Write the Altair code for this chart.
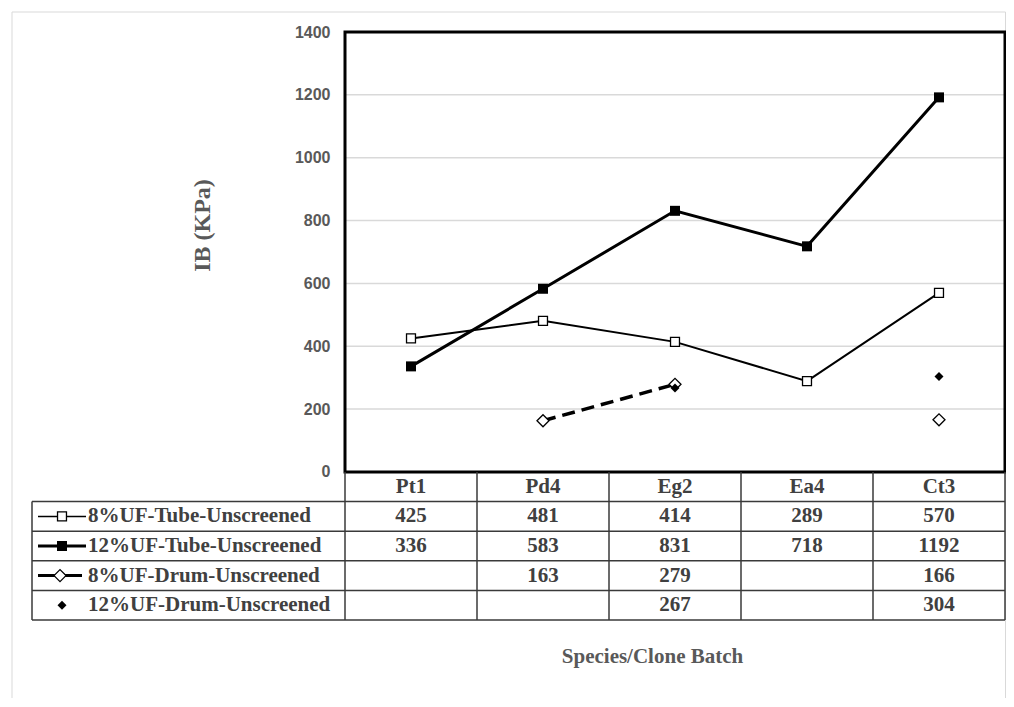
import altair as alt
import pandas as pd

# ---------------- data ----------------
categories = ["Pt1", "Pd4", "Eg2", "Ea4", "Ct3"]
series = ["8%UF-Tube-Unscreened", "12%UF-Tube-Unscreened",
          "8%UF-Drum-Unscreened", "12%UF-Drum-Unscreened"]
tube8 = [425, 481, 414, 289, 570]
tube12 = [336, 583, 831, 718, 1192]
drum8 = [None, 163, 279, None, 166]
drum12 = [None, None, 267, None, 304]
y_ticks = [0, 200, 400, 600, 800, 1000, 1200, 1400]
y_title = "IB (KPa)"
x_title = "Species/Clone Batch"

values = [tube8, tube12, drum8, drum12]

# ---------------- layout constants ----------------
N = len(categories)
W, H = 973, 588
LABEL_PX = 313                      # width of the table's label column in px
COLPX = (W - LABEL_PX) / N          # width of one category column in px
LABEL_W = LABEL_PX / COLPX          # label column width in category units
ROW = 94.2                          # table row height, in y units
YMAX = 1400
PAD = {"left": 24, "top": 24, "right": 1, "bottom": 78}

SERIF = "Liberation Serif"
SANS = "Liberation Sans"
TXT = "#404040"
GRAY = "#595959"
LINE = "#3a3a3a"

xs = alt.Scale(domain=[-LABEL_W, N], nice=False, zero=False)
ys = alt.Scale(domain=[-5 * ROW, YMAX], nice=False, zero=False)

xaxis = alt.Axis(labels=False, ticks=False, domain=False, grid=False,
                 title=x_title, titleFont=SERIF, titleFontSize=21,
                 titleFontWeight="bold", titleColor=GRAY,
                 titleX=620, titleY=36, titleAlign="center",
                 titleBaseline="middle")
yaxis = alt.Axis(values=y_ticks, format="d", grid=False, domain=False, ticks=False,
                 offset=-LABEL_PX, labelPadding=15,
                 labelFont=SANS, labelFontSize=16, labelFontWeight="bold",
                 labelColor=GRAY,
                 title=y_title, titleFont=SERIF, titleFontSize=24,
                 titleFontWeight="bold", titleColor=GRAY,
                 titleAngle=270, titleX=-143, titleY=193,
                 titleAlign="center", titleBaseline="middle")


def X(f="x"):
    return alt.X(f, type="quantitative", scale=xs, axis=xaxis)


def Y(f="y"):
    return alt.Y(f, type="quantitative", scale=ys, axis=yaxis)


# long data for the plot
rows = []
for s, (name, vals) in enumerate(zip(series, values)):
    seg = 0
    for i, v in enumerate(vals):
        if v is None:
            seg += 1
            continue
        rows.append({"series": name, "s": s, "cat": categories[i],
                     "x": i + 0.5, "y": v, "seg": seg})
df = pd.DataFrame(rows)


def sdf(s):
    return df[df["s"] == s]


layers = []

# outer (chart area) frame
frame_color = "#d9d9d9"
one = pd.DataFrame({"a": [0]})
layers.append(alt.Chart(one).mark_rule(color=frame_color, strokeWidth=1).encode(
    x=alt.value(-20), y=alt.value(-20), y2=alt.value(H + PAD["bottom"])))
layers.append(alt.Chart(one).mark_rule(color=frame_color, strokeWidth=1).encode(
    x=alt.value(-20), x2=alt.value(W + 0.5), y=alt.value(-20)))
layers.append(alt.Chart(one).mark_rule(color=frame_color, strokeWidth=1).encode(
    x=alt.value(W + 0.5), y=alt.value(-20), y2=alt.value(H + PAD["bottom"])))

# gridlines
grid_df = pd.DataFrame({"y": y_ticks[1:-1], "x": 0, "x2": N})
layers.append(alt.Chart(grid_df).mark_rule(color="#d9d9d9", strokeWidth=1.5).encode(
    x=X("x"), x2="x2", y=Y("y")))

# plot border
border_df = pd.DataFrame([{"x": 0, "x2": N, "y": 0, "y2": YMAX}])
layers.append(alt.Chart(border_df).mark_rect(fillOpacity=0, stroke="black", strokeWidth=3).encode(
    x=X("x"), x2="x2", y=Y("y"), y2="y2"))

# lines
layers.append(alt.Chart(sdf(0)).mark_line(color="black", strokeWidth=2).encode(
    x=X(), y=Y(), detail="seg:N"))
layers.append(alt.Chart(sdf(1)).mark_line(color="black", strokeWidth=3).encode(
    x=X(), y=Y(), detail="seg:N"))
layers.append(alt.Chart(sdf(2)).mark_line(color="black", strokeWidth=3.5, strokeDash=[13, 7]).encode(
    x=X(), y=Y(), detail="seg:N"))

# markers
marker_styles = [
    dict(shape="square", filled=True, color="white", stroke="black", strokeWidth=1.3, size=80, opacity=1),
    dict(shape="square", filled=True, color="black", size=100, opacity=1),
    dict(shape="diamond", filled=True, color="white", stroke="black", strokeWidth=1.3, size=144, opacity=1),
    dict(shape="diamond", filled=True, color="black", size=80, opacity=1),
]
for s in range(4):
    layers.append(alt.Chart(sdf(s)).mark_point(**marker_styles[s]).encode(x=X(), y=Y()))

# ---------------- data table ----------------
hl = pd.DataFrame({"y": [-ROW * k for k in range(1, 6)], "x": -LABEL_W, "x2": N})
layers.append(alt.Chart(hl).mark_rule(color=LINE, strokeWidth=1.5).encode(
    x=X("x"), x2="x2", y=Y("y")))
vl = pd.DataFrame({"x": [-LABEL_W] + list(range(0, N + 1)),
                   "y": [-ROW] + [0] * (N + 1),
                   "y2": [-5 * ROW] * (N + 2)})
layers.append(alt.Chart(vl).mark_rule(color=LINE, strokeWidth=1.5).encode(
    x=X("x"), y=Y("y"), y2="y2"))

head_df = pd.DataFrame({"x": [i + 0.5 for i in range(N)], "y": -0.5 * ROW, "t": categories})
val_df = df.assign(y=-(df["s"] + 1.5) * ROW, t=df["y"].astype(int).astype(str))
lab_df = pd.DataFrame({"x": -LABEL_W, "y": [-(s + 1.5) * ROW for s in range(4)], "t": series})

txt = dict(font=SERIF, fontSize=21, fontWeight="bold", color=TXT, baseline="middle")
layers.append(alt.Chart(head_df).mark_text(align="center", **txt).encode(x=X(), y=Y(), text="t:N"))
layers.append(alt.Chart(val_df).mark_text(align="center", **txt).encode(x=X(), y=Y(), text="t:N"))
layers.append(alt.Chart(lab_df).mark_text(align="left", dx=56, **txt).encode(x=X(), y=Y(), text="t:N"))

# legend keys inside the table
g0, g1, gc = -LABEL_W + 6 / COLPX, -LABEL_W + 54 / COLPX, -LABEL_W + 30 / COLPX
key_lines = [(0, 1.5, g1), (1, 3, g1), (2, 3, -LABEL_W + 50 / COLPX)]
for s, w, end in key_lines:
    kdf = pd.DataFrame([{"x": g0, "x2": end, "y": -(s + 1.5) * ROW}])
    layers.append(alt.Chart(kdf).mark_rule(color="black", strokeWidth=w).encode(
        x=X("x"), x2="x2", y=Y("y")))
key_centres = [gc, gc, -LABEL_W + 28 / COLPX, gc]
for s in range(4):
    kdf = pd.DataFrame([{"x": key_centres[s], "y": -(s + 1.5) * ROW}])
    layers.append(alt.Chart(kdf).mark_point(**marker_styles[s]).encode(x=X(), y=Y()))

chart = alt.layer(*layers).properties(
    width=W, height=H,
    autosize=alt.AutoSizeParams(type="none"),
    padding=PAD,
    background="white",
).configure_view(strokeWidth=0)

chart.save("out.html", embed_options={"renderer": "svg", "actions": False})
